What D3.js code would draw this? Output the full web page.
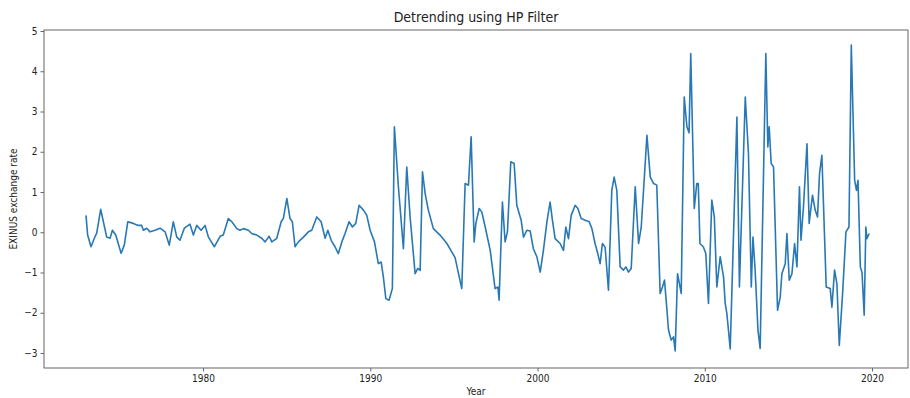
<!DOCTYPE html>
<html>
<head>
<meta charset="utf-8">
<script src="https://cdn.jsdelivr.net/npm/d3@7"></script>
<style>
  body { margin: 0; background: #fff; }
  .chart text { font-family: "DejaVu Sans Condensed", "DejaVu Sans", sans-serif; fill: #222; }
</style>
</head>
<body>
<div class="chart"></div>
<script>
// cycle component of EXINUS (year, value)
const years = [
  1973.00,1973.10,1973.30,1973.50,1973.64,1973.88,1974.04,1974.24,1974.44,1974.58,1974.78,1975.10,1975.29,1975.50,1975.83,1976.13,1976.33,1976.43,1976.63,1976.83,1977.13,1977.43,1977.73,1977.98,1978.22,1978.43,1978.62,1978.88,1979.22,1979.42,1979.62,1979.88,1980.12,
  1980.32,1980.68,1981.02,1981.21,1981.51,1981.72,1982.02,1982.21,1982.41,1982.71,1982.91,1983.21,1983.51,1983.71,1983.95,1984.11,1984.41,1984.67,1984.80,1985.01,1985.20,1985.34,1985.50,1985.70,1986.00,1986.30,1986.50,1986.80,1987.06,1987.30,
  1987.46,1987.66,1987.89,1988.09,1988.30,1988.49,1988.73,1988.93,1989.13,1989.33,1989.59,1989.79,1989.99,1990.25,1990.48,1990.65,1990.78,1990.93,1991.12,1991.32,1991.44,1991.68,1991.98,1992.18,1992.38,1992.68,1992.84,1992.98,1993.12,
  1993.28,1993.47,1993.77,1994.17,1994.58,1994.87,1995.07,1995.23,1995.47,1995.67,1995.87,1996.03,1996.21,1996.31,1996.51,1996.67,1996.87,1997.17,1997.46,1997.63,1997.70,1997.90,1998.06,1998.20,1998.40,1998.60,1998.76,1999.02,1999.16,
  1999.36,1999.56,1999.75,1999.96,2000.16,2000.35,2000.56,2000.75,2000.89,2001.05,2001.35,2001.55,2001.69,2001.85,2002.01,2002.25,2002.41,2002.61,2002.85,2003.09,2003.25,2003.44,2003.60,2003.74,2003.88,2004.04,2004.24,2004.44,2004.58,
  2004.74,2004.94,2005.14,2005.28,2005.44,2005.60,2005.84,2006.04,2006.20,2006.40,2006.54,2006.74,2006.94,2007.13,2007.33,2007.47,2007.59,2007.69,2007.83,2007.99,2008.13,2008.23,2008.37,2008.59,2008.77,2008.93,2009.06,2009.16,
  2009.37,2009.52,2009.61,2009.71,2009.91,2010.06,2010.22,2010.42,2010.57,2010.72,2010.92,2011.12,2011.22,2011.32,2011.52,2011.92,2012.07,2012.42,2012.61,2012.78,2012.88,2013.01,2013.18,2013.31,2013.65,
  2013.77,2013.85,2013.97,2014.11,2014.35,2014.51,2014.61,2014.81,2014.91,2015.05,2015.21,2015.37,2015.51,2015.66,2015.75,2015.90,2016.11,2016.24,2016.44,2016.60,2016.74,2016.86,2017.00,2017.26,2017.50,2017.60,2017.76,2017.90,2018.04,2018.24,2018.44,2018.62,2018.76,2018.96,2019.07,2019.16,2019.30,2019.40,2019.53,2019.63,2019.69,2019.83
];
const cycle = [
  0.42,-0.07,-0.36,-0.15,-0.02,0.57,0.26,-0.12,-0.15,0.05,-0.07,-0.52,-0.32,0.26,0.22,0.17,0.17,0.05,0.10,0.01,0.05,0.10,0.01,-0.32,0.26,-0.12,-0.20,0.10,0.20,-0.07,0.17,0.05,0.17,
  -0.12,-0.36,-0.10,-0.07,0.34,0.26,0.09,0.05,0.09,0.05,-0.03,-0.07,-0.15,-0.24,-0.10,-0.24,-0.15,0.26,0.34,0.84,0.34,0.26,-0.36,-0.24,-0.12,0.01,0.05,0.38,0.26,-0.15,
  0.05,-0.20,-0.36,-0.53,-0.24,-0.03,0.26,0.13,0.22,0.67,0.55,0.42,0.05,-0.24,-0.78,-0.74,-1.11,-1.65,-1.69,-1.40,2.62,1.13,-0.41,1.62,0.38,-1.03,-0.90,-0.95,1.50,
  0.96,0.55,0.09,-0.07,-0.28,-0.49,-0.63,-0.94,-1.40,1.21,1.17,2.37,-0.24,0.22,0.59,0.50,0.13,-0.45,-1.40,-1.36,-1.69,0.75,-0.24,0.01,1.75,1.71,0.67,0.30,-0.12,
  0.05,0.03,-0.41,-0.61,-0.99,-0.45,0.26,0.75,0.30,-0.16,-0.28,-0.45,0.13,-0.16,0.42,0.67,0.59,0.34,0.30,0.26,0.09,-0.28,-0.53,-0.78,-0.28,-0.37,-1.44,1.04,1.37,
  1.04,-0.86,-0.94,-0.86,-0.99,-0.90,1.13,-0.28,0.13,1.46,2.41,1.37,1.21,1.17,-1.52,-1.36,-1.19,-1.69,-2.43,-2.68,-2.60,-2.95,-1.03,-1.52,3.36,2.62,2.47,4.44,
  0.59,1.21,1.21,-0.28,-0.36,-0.53,-1.77,0.80,0.38,-1.36,-0.61,-1.11,-1.77,-2.02,-2.90,2.86,-1.36,3.36,1.96,-1.36,-0.12,-0.94,-2.43,-2.89,4.44,
  2.12,2.62,1.71,1.62,-1.94,-1.61,-1.03,-0.78,-0.03,-1.19,-1.03,-0.28,-0.86,1.13,-0.20,0.63,2.20,0.22,0.92,0.55,0.38,1.46,1.91,-1.36,-1.40,-1.86,-0.94,-1.28,-2.81,-1.52,0.01,0.13,4.65,1.29,1.04,1.29,-0.86,-1.00,-2.06,0.13,-0.16,-0.03
];
const xTicks = [1980, 1990, 2000, 2010, 2020];
const yTicks = [-3, -2, -1, 0, 1, 2, 3, 4, 5];

//set up SVG
const SVGWIDTH = 910;
const SVGHEIGHT = 398;
const MARGIN = { top: 30, right: 2, bottom: 30, left: 44 };
const PLOTWIDTH = SVGWIDTH - MARGIN.left - MARGIN.right;
const PLOTHEIGHT = SVGHEIGHT - MARGIN.top - MARGIN.bottom;

let svg = d3.select('.chart')
  .append('svg')
  .attr('width', SVGWIDTH)
  .attr('height', SVGHEIGHT);

const CHARTGROUP = svg.append('g')
  .attr('transform', `translate(${MARGIN.left}, ${MARGIN.top})`);

// scales
let xScale = d3.scaleLinear().domain([1970.49, 2022.15]).range([0, PLOTWIDTH]);
let yScale = d3.scaleLinear().domain([-3.373, 5.025]).range([PLOTHEIGHT, 0]);

// axes
let bottomAxis = d3.axisBottom(xScale).tickValues(xTicks).tickFormat(d3.format('d')).tickSize(3.5).tickPadding(3);
let leftAxis = d3.axisLeft(yScale).tickValues(yTicks).tickFormat(d3.format('d')).tickSize(3.5).tickPadding(3);

let gx = CHARTGROUP.append('g')
  .attr('transform', `translate(0, ${PLOTHEIGHT})`)
  .call(bottomAxis);
let gy = CHARTGROUP.append('g').call(leftAxis);

[gx, gy].forEach(g => {
  g.select('.domain').remove();
  g.selectAll('.tick line').attr('stroke', '#666');
  g.selectAll('.tick text').attr('font-size', 10).attr('fill', '#222');
});

// the line
let points = d3.zip(years, cycle);
let line = d3.line()
  .x(d => xScale(d[0]))
  .y(d => yScale(d[1]));

CHARTGROUP.append('path')
  .datum(points)
  .attr('d', line)
  .attr('fill', 'none')
  .attr('stroke', '#2878b5')
  .attr('stroke-width', 1.6)
  .attr('stroke-linejoin', 'round');

// frame
CHARTGROUP.append('rect')
  .attr('width', PLOTWIDTH)
  .attr('height', PLOTHEIGHT)
  .attr('fill', 'none')
  .attr('stroke', '#666')
  .attr('stroke-width', 1);

// labels
svg.append('text')
  .attr('x', MARGIN.left + PLOTWIDTH / 2)
  .attr('y', 22)
  .attr('text-anchor', 'middle')
  .attr('font-size', 14)
  .text('Detrending using HP Filter');

svg.append('text')
  .attr('x', MARGIN.left + PLOTWIDTH / 2)
  .attr('y', 395)
  .attr('text-anchor', 'middle')
  .attr('font-size', 10)
  .text('Year');

svg.append('text')
  .attr('transform', 'rotate(-90)')
  .attr('x', -(MARGIN.top + PLOTHEIGHT / 2))
  .attr('y', 17)
  .attr('text-anchor', 'middle')
  .attr('font-size', 10)
  .text('EXINUS exchange rate');
</script>
</body>
</html>
